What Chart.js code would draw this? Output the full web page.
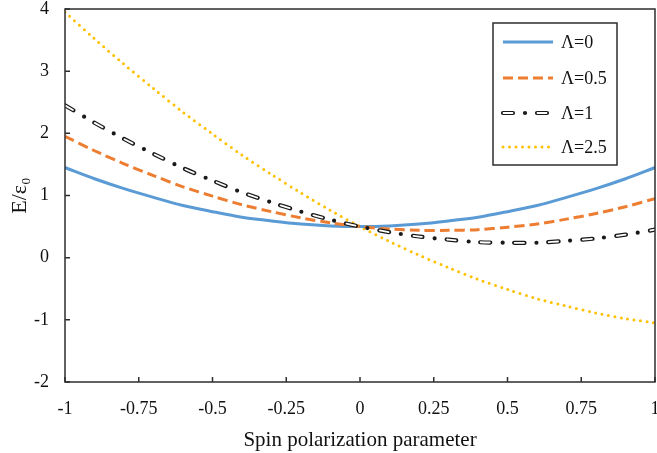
<!DOCTYPE html>
<html>
<head>
<meta charset="utf-8">
<script src="https://cdn.jsdelivr.net/npm/chart.js@4.4.0/dist/chart.umd.min.js"></script>
<style>
  html, body { margin: 0; padding: 0; background: #fff; }
  #wrap { width: 657px; height: 453px; }
</style>
</head>
<body>
<div id="wrap"><canvas id="energyChart" width="657" height="453"></canvas></div>
<script>
/* ===================== DATA ===================== */
const spinX = [-1, -0.9, -0.8, -0.7, -0.6, -0.5, -0.4, -0.3, -0.2, -0.1, 0,
               0.1, 0.2, 0.3, 0.4, 0.5, 0.6, 0.7, 0.8, 0.9, 1];

const energyL0  = [1.45, 1.27, 1.11, 0.97, 0.84, 0.74, 0.65, 0.59, 0.54, 0.51, 0.50,
                   0.51, 0.54, 0.59, 0.65, 0.74, 0.84, 0.97, 1.11, 1.27, 1.45];
const energyL05 = [1.95, 1.72, 1.51, 1.32, 1.14, 0.99, 0.85, 0.74, 0.64, 0.56, 0.50,
                   0.46, 0.44, 0.44, 0.45, 0.49, 0.54, 0.62, 0.71, 0.82, 0.95];
const energyL1  = [2.45, 2.17, 1.91, 1.67, 1.44, 1.24, 1.05, 0.89, 0.74, 0.61, 0.50,
                   0.41, 0.34, 0.29, 0.25, 0.24, 0.24, 0.27, 0.31, 0.37, 0.45];
const energyL25 = [3.95, 3.52, 3.11, 2.72, 2.34, 1.99, 1.65, 1.34, 1.04, 0.76, 0.50,
                   0.26, 0.04, -0.16, -0.35, -0.51, -0.66, -0.78, -0.89, -0.98, -1.05];

const seriesNames = ["Λ=0", "Λ=0.5", "Λ=1", "Λ=2.5"];
const xTicks = [-1, -0.75, -0.5, -0.25, 0, 0.25, 0.5, 0.75, 1];
const xTickLabels = ["-1", "-0.75", "-0.5", "-0.25", "0", "0.25", "0.5", "0.75", "1"];
const yTicks = [-2, -1, 0, 1, 2, 3, 4];

const SERIF = "'Liberation Serif', 'Times New Roman', serif";
const INK = "#111111";

function toPoints(values) {
  return spinX.map((x, i) => ({ x: x, y: values[i] }));
}

/* ========== Frame + inward tick marks ========== */
const frameAndTicks = {
  id: "frameAndTicks",
  afterDatasetsDraw(chart) {
    const { ctx, chartArea: a, scales } = chart;
    ctx.save();
    ctx.strokeStyle = "#2e2e2e";
    ctx.lineWidth = 1.5;
    ctx.strokeRect(a.left, a.top, a.right - a.left, a.bottom - a.top);
    ctx.beginPath();
    xTicks.forEach(v => {
      const px = scales.x.getPixelForValue(v);
      ctx.moveTo(px, a.bottom);
      ctx.lineTo(px, a.bottom - 5);
    });
    yTicks.forEach(v => {
      const py = scales.y.getPixelForValue(v);
      ctx.moveTo(a.left, py);
      ctx.lineTo(a.left + 5, py);
    });
    ctx.stroke();
    ctx.restore();
  }
};

/* ========== Boxed legend inside the plot ========== */
const boxLegend = {
  id: "boxLegend",
  afterDraw(chart) {
    const { ctx, chartArea: a } = chart;
    const bx = a.right - 162, by = a.top + 14, bw = 124, bh = 142;
    const rows = [19, 55, 90, 124];
    ctx.save();
    ctx.fillStyle = "#fff";
    ctx.fillRect(bx, by, bw, bh);
    ctx.strokeStyle = "#2e2e2e";
    ctx.lineWidth = 1.5;
    ctx.strokeRect(bx, by, bw, bh);

    chart.data.datasets.forEach(ds => {
      const ry = by + rows[ds.row];
      ctx.save();
      ctx.strokeStyle = ds.borderColor;
      ctx.lineWidth = ds.borderWidth;
      ctx.lineCap = ds.borderCapStyle || "butt";
      ctx.setLineDash(ds.borderDash || []);
      ctx.lineDashOffset = ds.borderDashOffset || 0;
      ctx.beginPath();
      ctx.moveTo(bx + 10, ry);
      ctx.lineTo(bx + 60, ry);
      ctx.stroke();
      ctx.restore();
    });

    ctx.fillStyle = INK;
    ctx.font = "18px " + SERIF;
    ctx.textBaseline = "middle";
    seriesNames.forEach((name, i) => {
      ctx.fillText(name, bx + 68, by + rows[i] + 1);
    });
    ctx.restore();
  }
};

/* ========== Chart ========== */
const ctx = document.getElementById("energyChart").getContext("2d");
new Chart(ctx, {
  type: "line",
  data: {
    datasets: [
      { label: seriesNames[0], row: 0, data: toPoints(energyL0),
        borderColor: "#5b9bd5", borderWidth: 3, order: 4 },
      { label: seriesNames[1], row: 1, data: toPoints(energyL05),
        borderColor: "#ed7d31", borderWidth: 3, borderDash: [10, 5], order: 3 },
      // Λ=1: dark dash-dot line with a thin white core -> hollow dashes
      { label: seriesNames[2], row: 2, data: toPoints(energyL1),
        borderColor: "#1a1a1a", borderWidth: 4.2, borderCapStyle: "round",
        borderDash: [10, 12, 0, 12], order: 2 },
      { label: "", row: 2, data: toPoints(energyL1),
        borderColor: "#ffffff", borderWidth: 1.8, borderCapStyle: "round",
        borderDash: [9, 25], borderDashOffset: -0.5, order: 1 },
      { label: seriesNames[3], row: 3, data: toPoints(energyL25),
        borderColor: "#ffc000", borderWidth: 3, borderCapStyle: "round",
        borderDash: [0, 6.5], order: 5 }
    ]
  },
  options: {
    responsive: false,
    animation: false,
    events: [],
    devicePixelRatio: 1,
    layout: { padding: { left: 0, right: 2, top: 9, bottom: 0 } },
    elements: {
      point: { radius: 0 },
      line: { tension: 0.3, fill: false }
    },
    plugins: {
      legend: { display: false },
      tooltip: { enabled: false }
    },
    scales: {
      x: {
        type: "linear",
        min: -1, max: 1,
        afterFit(scale) {
          scale.height = 71;
          scale.paddingLeft = 0;
          scale.paddingRight = 0;
        },
        afterBuildTicks(scale) { scale.ticks = xTicks.map(v => ({ value: v })); },
        grid: { display: false, drawTicks: false },
        border: { display: false },
        ticks: {
          padding: 16,
          color: INK,
          font: { family: SERIF, size: 18 },
          maxRotation: 0,
          callback: (v) => xTickLabels[xTicks.indexOf(v)]
        },
        title: {
          display: true,
          text: "Spin polarization parameter",
          color: INK,
          font: { family: SERIF, size: 21 },
          padding: { top: 0, bottom: 0 }
        }
      },
      y: {
        min: -2, max: 4,
        afterFit(scale) {
          scale.width = 65;
          scale.paddingTop = 0;
          scale.paddingBottom = 0;
        },
        afterBuildTicks(scale) { scale.ticks = yTicks.map(v => ({ value: v })); },
        grid: { display: false, drawTicks: false },
        border: { display: false },
        ticks: {
          padding: 16,
          color: INK,
          font: { family: SERIF, size: 18 }
        },
        title: {
          display: true,
          text: "E/ε₀",
          color: INK,
          font: { family: SERIF, size: 22 },
          padding: { top: 7, bottom: 0 }
        }
      }
    }
  },
  plugins: [frameAndTicks, boxLegend]
});
</script>
</body>
</html>
